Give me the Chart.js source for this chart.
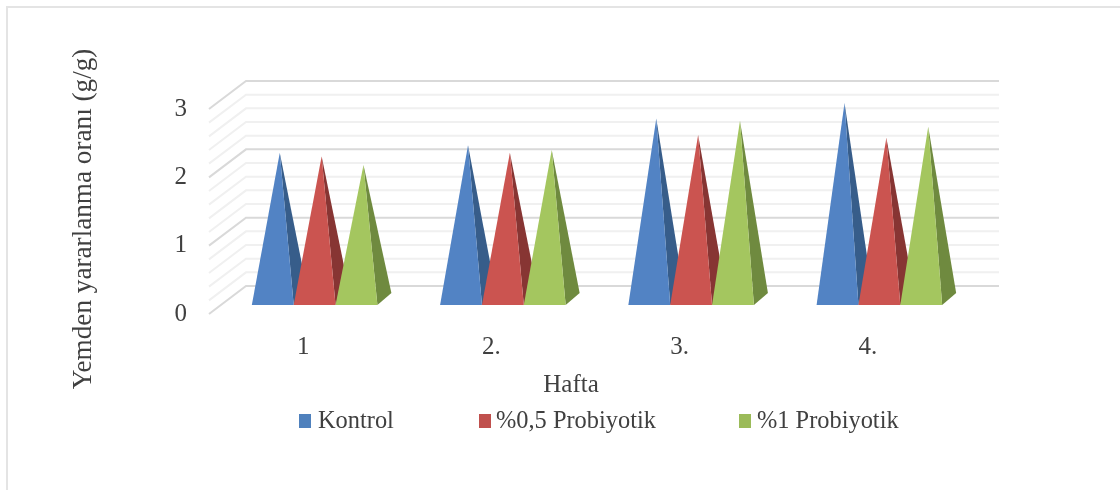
<!DOCTYPE html>
<html>
<head>
<meta charset="utf-8">
<script src="https://cdn.jsdelivr.net/npm/chart.js@4"></script>
<style>
  html, body { margin: 0; background: #fff; }
  #wrap { position: relative; width: 1120px; height: 490px; overflow: hidden; }
  #frame { position: absolute; left: 6px; top: 6px; width: 1200px; height: 600px; border: 2px solid #e4e4e4; box-sizing: border-box; }
  canvas { position: absolute; left: 0; top: 0; }
</style>
</head>
<body>
<div id="wrap">
  <div id="frame"></div>
  <canvas id="chart" width="1120" height="490"></canvas>
</div>
<script>
// Haftalar ve seriler
const weeks = ['1', '2.', '3.', '4.'];
const kontrol = [2.14, 2.25, 2.64, 2.87];
const probiyotik05 = [2.09, 2.14, 2.40, 2.36];
const probiyotik1 = [1.96, 2.18, 2.61, 2.52];

const seriesNames = ['Kontrol', '%0,5 Probiyotik', '%1 Probiyotik'];
const legendColors = ['#4F81BD', '#C0504D', '#9BBB59'];
const frontColors = ['#5283C4', '#CB5450', '#A4C65F'];
const sideColors = ['#375D8A', '#873533', '#6F8A3F'];

const FONT = '"Liberation Serif", serif';
const TEXT = '#404040';

// 3B derinlik: on duzlemden arka duvara kayma
const WALL_DX = 37, WALL_DY = -28;
const BASE_DX = 11.5, BASE_DY = -9;
const SIDE_DX = 14, SIDE_DY = -12;

const wallPlugin = {
  id: 'wall',
  beforeDatasetsDraw(chart) {
    const ctx = chart.ctx, y = chart.scales.y, a = chart.chartArea;
    ctx.save();
    y.ticks.forEach(t => {
      const py = y.getPixelForValue(t.value);
      const major = Number.isInteger(Math.round(t.value * 1000) / 1000);
      ctx.strokeStyle = major ? '#D9D9D9' : '#F0F0F0';
      ctx.lineWidth = 2;
      ctx.beginPath();
      ctx.moveTo(a.left, py);
      ctx.lineTo(a.left + WALL_DX, py + WALL_DY);
      ctx.lineTo(a.right + WALL_DX, py + WALL_DY);
      ctx.stroke();
    });
    ctx.restore();
  }
};

// cubuklar yerine piramit ciz
const pyramidPlugin = {
  id: 'pyramid',
  beforeDatasetsDraw(chart) {
    const ctx = chart.ctx;
    chart.data.datasets.forEach((ds, i) => {
      chart.getDatasetMeta(i).data.forEach(bar => {
        const left = bar.x - bar.width / 2 + BASE_DX;
        const right = bar.x + bar.width / 2 + BASE_DX;
        const base = bar.base + BASE_DY;
        const topX = bar.x + BASE_DX + SIDE_DX / 2;
        const topY = bar.y + BASE_DY + SIDE_DY / 2;
        ctx.fillStyle = sideColors[i];
        ctx.beginPath();
        ctx.moveTo(right, base);
        ctx.lineTo(right + SIDE_DX, base + SIDE_DY);
        ctx.lineTo(topX, topY);
        ctx.closePath();
        ctx.fill();
        ctx.fillStyle = frontColors[i];
        ctx.beginPath();
        ctx.moveTo(left, base);
        ctx.lineTo(right, base);
        ctx.lineTo(topX, topY);
        ctx.closePath();
        ctx.fill();
      });
    });
    return false;
  }
};

const labelsPlugin = {
  id: 'labels',
  afterDraw(chart) {
    const ctx = chart.ctx;
    ctx.save();
    ctx.fillStyle = TEXT;
    ctx.textBaseline = 'middle';
    ctx.textAlign = 'center';
    // eksen basliklari
    ctx.font = '25px ' + FONT;
    ctx.fillText('Hafta', 571, 385);
    ctx.save();
    ctx.translate(84, 219);
    ctx.rotate(-Math.PI / 2);
    ctx.font = '27.2px ' + FONT;
    ctx.fillText('Yemden yararlanma oranı (g/g)', 0, 0);
    ctx.restore();
    // lejant
    const boxX = [299, 479, 739];
    const textX = [318, 496, 757];
    ctx.textAlign = 'left';
    ctx.font = '24.4px ' + FONT;
    chart.data.datasets.forEach((ds, i) => {
      ctx.fillStyle = legendColors[i];
      ctx.fillRect(boxX[i], 414, 12, 14);
      ctx.fillStyle = TEXT;
      ctx.fillText(ds.label, textX[i], 422);
    });
    ctx.restore();
  }
};

new Chart(document.getElementById('chart').getContext('2d'), {
  type: 'bar',
  data: {
    labels: weeks,
    datasets: [
      { label: seriesNames[0], data: kontrol, backgroundColor: legendColors[0] },
      { label: seriesNames[1], data: probiyotik05, backgroundColor: legendColors[1] },
      { label: seriesNames[2], data: probiyotik1, backgroundColor: legendColors[2] }
    ]
  },
  plugins: [wallPlugin, pyramidPlugin, labelsPlugin],
  options: {
    responsive: false,
    animation: false,
    events: [],
    layout: { padding: { left: 120, right: 158, top: 109, bottom: 88 } },
    datasets: { bar: { barPercentage: 1, categoryPercentage: 0.667 } },
    plugins: { legend: { display: false }, tooltip: { enabled: false } },
    scales: {
      x: {
        grid: { display: false },
        border: { display: false },
        ticks: { color: TEXT, font: { family: FONT, size: 25 }, padding: 10, maxRotation: 0 },
        afterFit: s => { s.height = 88; }
      },
      y: {
        min: 0,
        max: 3,
        grid: { display: false },
        border: { display: false },
        ticks: {
          stepSize: 0.2,
          autoSkip: false,
          color: TEXT,
          padding: 14,
          font: { family: FONT, size: 25 },
          callback: v => Number.isInteger(Math.round(v * 1000) / 1000) ? Math.round(v) : ''
        },
        afterFit: s => { s.width = 89; }
      }
    }
  }
});
</script>
</body>
</html>
